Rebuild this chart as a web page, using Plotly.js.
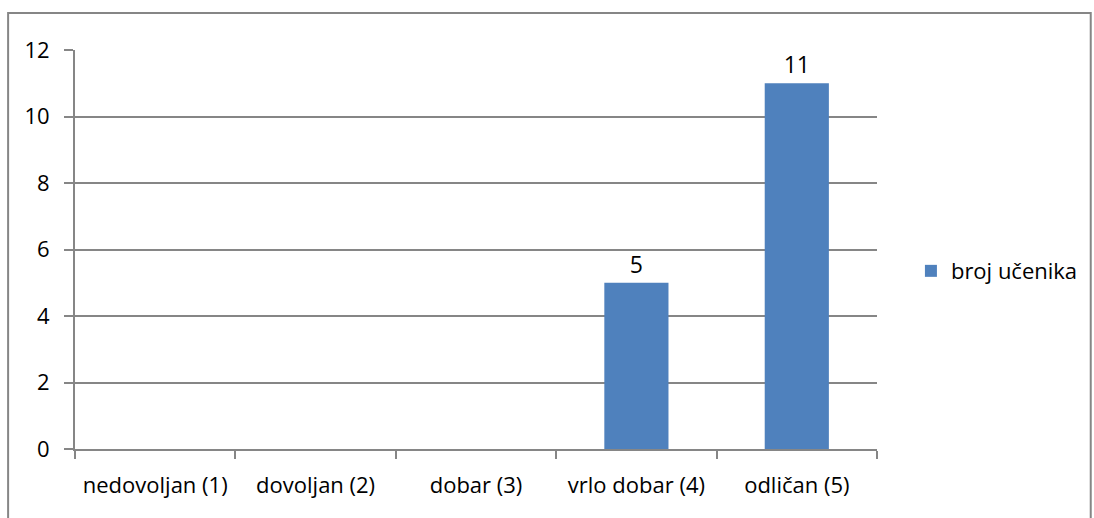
<!DOCTYPE html>
<html>
<head>
<meta charset="utf-8">
<script src="https://cdn.plot.ly/plotly-3.0.1.min.js"></script>
<style>html,body{margin:0;padding:0;background:#fff;}#chart{width:1094px;height:518px;}</style>
</head>
<body>
<div id="chart"></div>
<script>
const categories = ["nedovoljan (1)", "dovoljan (2)", "dobar (3)", "vrlo dobar (4)", "odličan (5)"];
const counts = [0, 0, 0, 5, 11];
const labels = ["", "", "", "5", "11"];
const seriesName = "broj učenika";
const yTicks = [0, 2, 4, 6, 8, 10, 12];

const FONT = "Open Sans, Liberation Sans, sans-serif";
const trace = {
  type: "bar",
  x: categories,
  y: counts,
  name: seriesName,
  text: labels,
  textposition: "outside",
  cliponaxis: false,
  textfont: {family: FONT, size: 23, color: "#000"},
  marker: {color: "#4F81BD"},
  showlegend: true
};
const layout = {
  width: 1094, height: 518,
  margin: {l: 75, r: 216, t: 50, b: 69},
  paper_bgcolor: "#fff", plot_bgcolor: "#fff",
  font: {family: FONT, size: 22, color: "#000"},
  bargap: 0.6,
  xaxis: {
    showline: true, linecolor: "#868686", linewidth: 2,
    ticks: "outside", tickson: "boundaries", ticklen: 8, tickcolor: "#868686", tickwidth: 2,
    showgrid: false, zeroline: false,
    tickangle: 0,
    ticklabelstandoff: 16,
    tickfont: {family: FONT, size: 22, color: "#000"}
  },
  yaxis: {
    range: [0, 12], tickvals: yTicks, ticktext: yTicks.map(String),
    showline: true, linecolor: "#868686", linewidth: 2,
    ticks: "outside", ticklen: 9, tickcolor: "#868686", tickwidth: 2,
    showgrid: true, gridcolor: "#868686", gridwidth: 2,
    zeroline: false,
    ticklabelstandoff: 10,
    tickfont: {family: FONT, size: 22, color: "#000"}
  },
  legend: {
    x: 1.041, xanchor: "left", y: 0.446, yanchor: "middle",
    font: {family: FONT, size: 22, color: "#000"},
    itemwidth: 30
  },
  shapes: [{
    type: "rect", xref: "paper", yref: "paper",
    x0: -0.0834, x1: 1.2665, y0: -0.2, y1: 1.0927,
    line: {color: "#868686", width: 2}, fillcolor: "rgba(0,0,0,0)", layer: "below"
  }]
};
Plotly.newPlot("chart", [trace], layout, {displayModeBar: false, staticPlot: true});
</script>
</body>
</html>
